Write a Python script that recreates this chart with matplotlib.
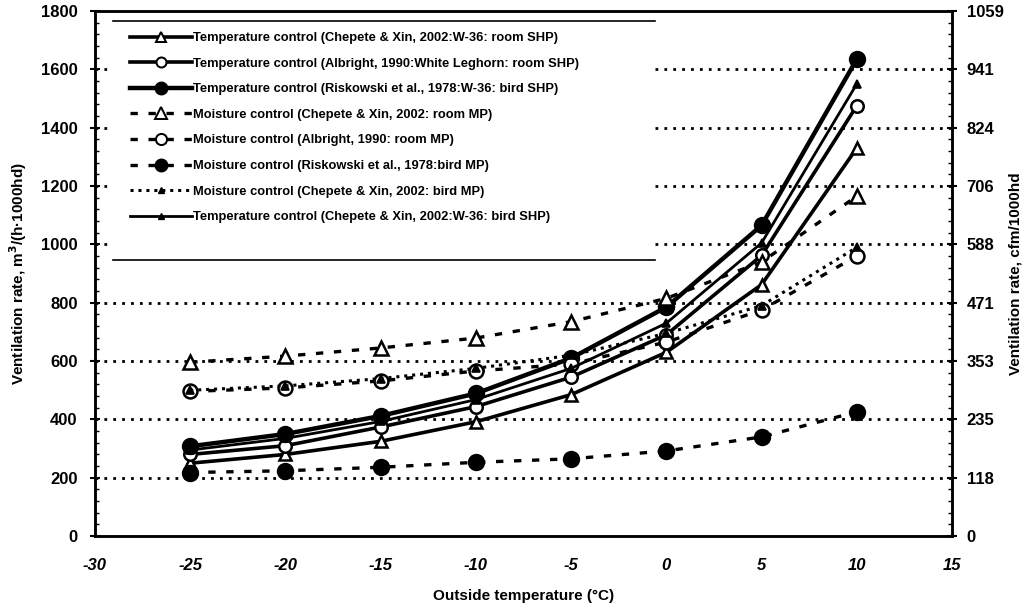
import matplotlib
matplotlib.use("Agg")
import matplotlib.pyplot as plt
from matplotlib.lines import Line2D
from matplotlib.patches import Rectangle
from matplotlib.ticker import MultipleLocator

plt.rcParams['font.family'] = ['Liberation Sans', 'DejaVu Sans']

temps = [-25, -20, -15, -10, -5, 0, 5, 10]
temp_chepete_room = [250, 280, 325, 392, 485, 630, 862, 1330]
temp_albright = [280, 310, 374, 444, 545, 690, 962, 1475]
temp_riskowski = [308, 350, 412, 489, 610, 785, 1065, 1635]
moist_chepete_room = [596, 617, 645, 679, 735, 815, 940, 1165]
moist_albright = [496, 508, 532, 566, 590, 665, 775, 960]
moist_riskowski = [218, 224, 236, 253, 265, 292, 340, 426]
moist_chepete_bird = [500, 515, 540, 575, 620, 695, 790, 990]
temp_chepete_bird = [295, 335, 393, 468, 575, 730, 1005, 1550]

labels = [
    "Temperature control (Chepete & Xin, 2002:W-36: room SHP)",
    "Temperature control (Albright, 1990:White Leghorn: room SHP)",
    "Temperature control (Riskowski et al., 1978:W-36: bird SHP)",
    "Moisture control (Chepete & Xin, 2002: room MP)",
    "Moisture control (Albright, 1990: room MP)",
    "Moisture control (Riskowski et al., 1978:bird MP)",
    "Moisture control (Chepete & Xin, 2002: bird MP)",
    "Temperature control (Chepete & Xin, 2002:W-36: bird SHP)",
]
right_ticklabels = ["0", "118", "235", "353", "471", "588", "706", "824", "941", "1059"]
left_ticks = [0, 200, 400, 600, 800, 1000, 1200, 1400, 1600, 1800]
x_ticks = [-30, -25, -20, -15, -10, -5, 0, 5, 10, 15]

fig = plt.figure(figsize=(10.33, 6.12), dpi=100)
ax = fig.add_axes([0.092, 0.124, 0.8296, 0.858])
ax.set_xlim(-30, 15)
ax.set_ylim(0, 1800)

# gridlines
for g in left_ticks[1:-1]:
    ax.axhline(g, color='black', linestyle=(0, (1, 2.2)), linewidth=2.0, zorder=1)

dash = (0, (2.2, 3.2))
styles = [
    dict(ls='-', lw=2.6, marker='^', ms=9, mfc='white', mew=1.8),
    dict(ls='-', lw=2.6, marker='o', ms=9, mfc='white', mew=1.8),
    dict(ls='-', lw=3.2, marker='o', ms=11, mfc='black', mew=1.5),
    dict(ls=dash, lw=2.4, marker='^', ms=10, mfc='white', mew=1.8),
    dict(ls=dash, lw=2.4, marker='o', ms=10, mfc='white', mew=1.8),
    dict(ls=dash, lw=2.4, marker='o', ms=11, mfc='black', mew=1.5),
    dict(ls=(0, (1, 1.6)), lw=2.2, marker='^', ms=6, mfc='black', mew=1.2),
    dict(ls='-', lw=2.0, marker='^', ms=6, mfc='black', mew=1.2),
]
series = [temp_chepete_room, temp_albright, temp_riskowski, moist_chepete_room,
          moist_albright, moist_riskowski, moist_chepete_bird, temp_chepete_bird]
handles = []
for vals, st, lab in zip(series, styles, labels):
    ax.plot(temps, vals, color='black', linestyle=st['ls'], linewidth=st['lw'],
            marker=st['marker'], markersize=st['ms'], markerfacecolor=st['mfc'],
            markeredgecolor='black', markeredgewidth=st['mew'], zorder=3)
    handles.append(Line2D([], [], color='black', linestyle=st['ls'], linewidth=st['lw'],
                          marker=st['marker'], markersize=st['ms'] * 0.8,
                          markerfacecolor=st['mfc'], markeredgecolor='black',
                          markeredgewidth=st['mew'] * 0.8))

# legend background and top/bottom rules
lx0, lx1, ly0, ly1 = 0.021, 0.653, 0.526, 0.981
ax.add_patch(Rectangle((lx0, ly0), lx1 - lx0, ly1 - ly0, transform=ax.transAxes,
                       facecolor='white', edgecolor='none', zorder=4))
ax.plot([lx0, lx1], [ly1, ly1], transform=ax.transAxes, color='black', lw=1.2, zorder=5)
ax.plot([lx0, lx1], [ly0, ly0], transform=ax.transAxes, color='black', lw=1.2, zorder=5)
leg = ax.legend(handles=handles, labels=labels, loc='upper left',
                bbox_to_anchor=(0.041, 0.960), frameon=False,
                handlelength=4.8, handletextpad=0.1, labelspacing=1.05,
                borderaxespad=0, borderpad=0, prop={'weight': 'bold', 'size': 9.3})
leg.set_zorder(6)

ax.set_xticks(x_ticks)
ax.set_xticklabels([str(v) for v in x_ticks], fontweight='bold', fontstyle='italic', fontsize=12)
ax.set_yticks(left_ticks)
ax.set_yticklabels([str(v) for v in left_ticks], fontweight='bold', fontsize=12)
ax.yaxis.set_minor_locator(MultipleLocator(40))
ax.tick_params(axis='y', which='major', direction='inout', length=7, width=1.5, pad=9)
ax.tick_params(axis='y', which='minor', direction='in', length=3, width=1)
ax.tick_params(axis='x', which='major', direction='in', length=0, pad=16)
for s in ax.spines.values():
    s.set_linewidth(1.8)

ax.set_xlabel("Outside temperature (°C)", fontweight='bold', fontsize=11)
ax.xaxis.set_label_coords(0.5, -0.10)
ax.set_ylabel("Ventilation rate, m$^\\mathbf{3}$/(h·1000hd)", fontweight='bold', fontsize=11)
ax.yaxis.set_label_coords(-0.077, 0.5)

ax2 = ax.twinx()
ax2.set_ylim(0, 1800)
ax2.set_yticks(left_ticks)
ax2.set_yticklabels(right_ticklabels, fontweight='bold', fontsize=12)
ax2.yaxis.set_minor_locator(MultipleLocator(40))
ax2.tick_params(axis='y', which='major', direction='inout', length=7, width=1.5, pad=7)
ax2.tick_params(axis='y', which='minor', direction='in', length=3, width=1)
ax2.set_ylabel("Ventilation rate, cfm/1000hd", fontweight='bold', fontsize=11)
ax2.yaxis.set_label_coords(1.066, 0.5)
for s in ax2.spines.values():
    s.set_linewidth(1.8)

fig.savefig("out.png", dpi=100)
